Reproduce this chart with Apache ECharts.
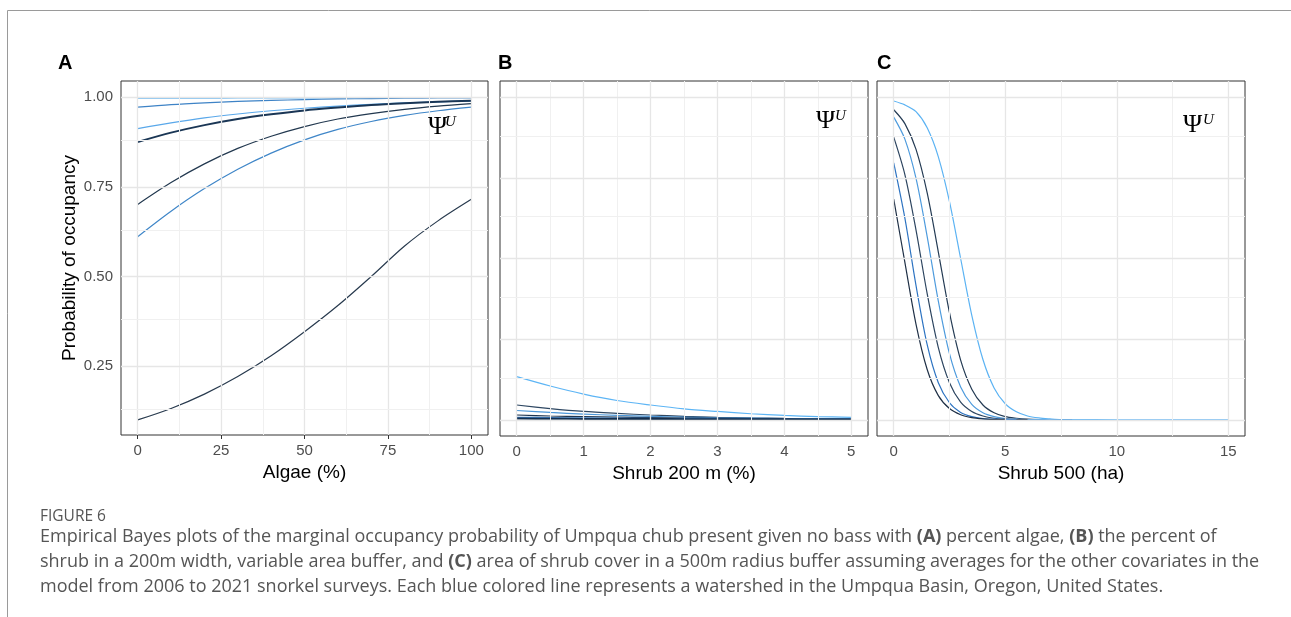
<!DOCTYPE html>
<html>
<head>
<meta charset="utf-8">
<script src="https://cdn.jsdelivr.net/npm/echarts@6/dist/echarts.min.js"></script>
<style>
  html, body { margin: 0; padding: 0; background: #fff; }
  #main { width: 1291px; height: 617px; }
</style>
</head>
<body>
<div id="main"></div>
<script>
// ---- data ----
// panel A: algae (%)
var algaeX = [0, 10, 20, 30, 40, 50, 60, 70, 80, 90, 100];
var algae1 = [0.997, 0.997, 0.997, 0.998, 0.998, 0.998, 0.998, 0.998, 0.999, 0.999, 0.999];
var algae2 = [0.972, 0.979, 0.984, 0.988, 0.991, 0.993, 0.995, 0.996, 0.997, 0.998, 0.998];
var algae3 = [0.912, 0.928, 0.942, 0.953, 0.962, 0.969, 0.975, 0.980, 0.984, 0.987, 0.989];
var algae4 = [0.875, 0.901, 0.922, 0.939, 0.952, 0.963, 0.971, 0.978, 0.983, 0.987, 0.990];
var algae5 = [0.701, 0.762, 0.814, 0.857, 0.891, 0.918, 0.939, 0.954, 0.966, 0.975, 0.982];
var algae6 = [0.611, 0.682, 0.745, 0.799, 0.844, 0.881, 0.910, 0.932, 0.949, 0.962, 0.972];
var algae7 = [0.100, 0.132, 0.172, 0.221, 0.279, 0.346, 0.419, 0.500, 0.585, 0.655, 0.715];

// panel B: shrub 200 m (%)
var shrub200X = [0, 0.5, 1, 1.5, 2, 2.5, 3, 3.5, 4, 4.5, 5];
var shrub200_1 = [0.134, 0.105, 0.080, 0.060, 0.046, 0.034, 0.026, 0.019, 0.014, 0.010, 0.008];
var shrub200_2 = [0.046, 0.035, 0.026, 0.020, 0.015, 0.011, 0.008, 0.006, 0.0046, 0.0034, 0.0025];
var shrub200_3 = [0.029, 0.023, 0.018, 0.014, 0.011, 0.0085, 0.0066, 0.0051, 0.004, 0.0031, 0.0024];
var shrub200_4 = [0.015, 0.012, 0.010, 0.0083, 0.0068, 0.0056, 0.0046, 0.0037, 0.003, 0.0025, 0.002];
var shrub200_5 = [0.008, 0.007, 0.006, 0.0052, 0.0045, 0.004, 0.0035, 0.003, 0.0026, 0.0023, 0.002];
var shrub200_6 = [0.004, 0.0035, 0.003, 0.0028, 0.0025, 0.0022, 0.002, 0.0018, 0.0016, 0.0014, 0.0012];

// panel C: shrub 500 (ha)
var shrub500X = [0, 0.5, 1, 1.5, 2, 2.5, 3, 3.5, 4, 4.5, 5, 5.5, 6, 6.5, 7, 7.5, 8, 10, 12.5, 15];
var shrub500_1 = [0.988, 0.976, 0.955, 0.905, 0.815, 0.676, 0.500, 0.324, 0.187, 0.099, 0.050, 0.025, 0.012, 0.006, 0.003, 0.001, 0.001, 0, 0, 0];
var shrub500_2 = [0.961, 0.918, 0.838, 0.703, 0.520, 0.332, 0.185, 0.095, 0.046, 0.022, 0.010, 0.005, 0.002, 0.001];
var shrub500_3 = [0.938, 0.870, 0.748, 0.568, 0.368, 0.205, 0.102, 0.048, 0.022, 0.010, 0.004, 0.002, 0.001, 0.001, 0, 0, 0];
var shrub500_4 = [0.876, 0.760, 0.588, 0.391, 0.224, 0.115, 0.055, 0.026, 0.012, 0.005, 0.002, 0.001, 0.001];
var shrub500_5 = [0.796, 0.625, 0.416, 0.233, 0.115, 0.053, 0.023, 0.010, 0.004, 0.002, 0.001, 0];
var shrub500_6 = [0.684, 0.488, 0.296, 0.156, 0.075, 0.035, 0.016, 0.007, 0.003, 0.001, 0.001];

// ticks / grid breaks
var ticksAx = [0, 25, 50, 75, 100];
var minorAx = [12.5, 37.5, 62.5, 87.5];
var ticksAy = [0.25, 0.5, 0.75, 1];
var minorAy = [0.125, 0.375, 0.625, 0.875];
var ticksBx = [0, 1, 2, 3, 4, 5];
var minorBx = [0.5, 1.5, 2.5, 3.5, 4.5];
var ticksCx = [0, 5, 10, 15];
var minorCx = [2.5, 7.5, 12.5];
var ticksBCy = [0, 0.25, 0.5, 0.75, 1];
var minorBCy = [0.125, 0.375, 0.625, 0.875];

// colours (ggplot default gradient dark navy -> light blue)
var coloursA = ['#5AB0F0', '#3E83C6', '#5AA8EA', '#1A3655', '#22384F', '#3F86C8', '#283A4E'];
var coloursB = ['#5DB5F5', '#2E4762', '#4C97D8', '#1E3550', '#3B7DC2', '#15304F'];
var coloursC = ['#5CB3F3', '#243B54', '#4E9BDD', '#2D4560', '#2E74C2', '#1F3046'];

var chart = echarts.init(document.getElementById('main'));

function pairs(xs, ys) {
    var out = [];
    for (var i = 0; i < ys.length; i++) out.push([xs[i], ys[i]]);
    return out;
}

// gridlines drawn as markLines so they sit on the same scale as the data
function gridSeries(idx, majX, minX, majY, minY) {
    var d = [];
    var major = { color: '#E6E6E6', width: 1.3, type: 'solid' };
    var minor = { color: '#F0F0F0', width: 1, type: 'solid' };
    majX.forEach(function (v) { d.push({ xAxis: v, lineStyle: major }); });
    minX.forEach(function (v) { d.push({ xAxis: v, lineStyle: minor }); });
    majY.forEach(function (v) { d.push({ yAxis: v, lineStyle: major }); });
    minY.forEach(function (v) { d.push({ yAxis: v, lineStyle: minor }); });
    return {
        type: 'line', xAxisIndex: idx, yAxisIndex: idx, data: [], z: 1, silent: true,
        markLine: { silent: true, symbol: 'none', label: { show: false }, animation: false, data: d }
    };
}

function lineSeries(idx, xs, ys, colour, w) {
    return {
        type: 'line', xAxisIndex: idx, yAxisIndex: idx, z: 3,
        data: pairs(xs, ys), showSymbol: false, smooth: 0.3,
        lineStyle: { color: colour, width: w || 1.2 }, animation: false, silent: true
    };
}

function xAxisOf(idx, min, max, ticks, name) {
    return {
        gridIndex: idx, type: 'value', min: min, max: max,
        axisLine: { show: false },
        axisTick: { show: true, length: 4, lineStyle: { color: '#333' }, customValues: ticks },
        axisLabel: { customValues: ticks, fontSize: 15, color: '#4D4D4D', margin: 8, fontFamily: 'Liberation Sans' },
        splitLine: { show: false },
        name: name, nameLocation: 'middle', nameGap: 28,
        nameTextStyle: { fontSize: 19, color: '#000', fontFamily: 'Liberation Sans' }
    };
}

function yAxisOf(idx, min, max, ticks, showLabels, name) {
    return {
        gridIndex: idx, type: 'value', min: min, max: max,
        axisLine: { show: false },
        axisTick: { show: true, length: 4, lineStyle: { color: '#333' }, customValues: ticks },
        axisLabel: {
            show: showLabels, customValues: ticks, fontSize: 15, color: '#4D4D4D', margin: 8,
            fontFamily: 'Liberation Sans', formatter: function (v) { return v.toFixed(2); }
        },
        splitLine: { show: false },
        name: name || '', nameLocation: 'middle', nameGap: 42,
        nameTextStyle: { fontSize: 19, color: '#000', fontFamily: 'Liberation Sans' }
    };
}

var seriesList = [
    gridSeries(0, ticksAx, minorAx, ticksAy, minorAy),
    gridSeries(1, ticksBx, minorBx, ticksBCy, minorBCy),
    gridSeries(2, ticksCx, minorCx, ticksBCy, minorBCy)
];
[algae1, algae2, algae3, algae4, algae5, algae6, algae7].forEach(function (ys, i) {
    seriesList.push(lineSeries(0, algaeX, ys, coloursA[i], i === 3 ? 2 : 1.2));
});
[shrub200_1, shrub200_2, shrub200_3, shrub200_4, shrub200_5, shrub200_6].forEach(function (ys, i) {
    seriesList.push(lineSeries(1, shrub200X, ys, coloursB[i], i === 5 ? 2 : 1.2));
});
[shrub500_1, shrub500_2, shrub500_3, shrub500_4, shrub500_5, shrub500_6].forEach(function (ys, i) {
    seriesList.push(lineSeries(2, shrub500X, ys, coloursC[i], 1.2));
});

var capFont = '18px "Open Sans"';
var capBold = { b: { fontWeight: 'bold', fontFamily: 'Open Sans', fontSize: 18, fill: '#555' } };
var psiFont = '26px "Liberation Serif"';
var uFont = 'italic 15px "Liberation Serif"';

var option = {
    backgroundColor: '#fff',
    animation: false,
    grid: [
        { left: 121, top: 81, width: 367, height: 354, show: true, borderColor: '#333', borderWidth: 1, backgroundColor: 'transparent' },
        { left: 500, top: 81, width: 368, height: 355, show: true, borderColor: '#333', borderWidth: 1, backgroundColor: 'transparent' },
        { left: 877, top: 81, width: 368, height: 355, show: true, borderColor: '#333', borderWidth: 1, backgroundColor: 'transparent' }
    ],
    xAxis: [
        xAxisOf(0, -5, 105, ticksAx, 'Algae (%)'),
        xAxisOf(1, -0.25, 5.25, ticksBx, 'Shrub 200 m (%)'),
        xAxisOf(2, -0.75, 15.75, ticksCx, 'Shrub 500 (ha)')
    ],
    yAxis: [
        yAxisOf(0, 0.058, 1.045, ticksAy, true, 'Probability of occupancy'),
        yAxisOf(1, -0.05, 1.05, ticksBCy, false),
        yAxisOf(2, -0.05, 1.05, ticksBCy, false)
    ],
    series: seriesList,
    graphic: [
        // page frame
        { type: 'line', shape: { x1: 7.5, y1: 10.5, x2: 1291, y2: 10.5 }, style: { stroke: '#9a9a9a', lineWidth: 1 } },
        { type: 'line', shape: { x1: 7.5, y1: 10.5, x2: 7.5, y2: 617 }, style: { stroke: '#9a9a9a', lineWidth: 1 } },
        // panel letters
        { type: 'text', x: 58, y: 53, style: { text: 'A', font: 'bold 20px "Liberation Sans"', fill: '#000' } },
        { type: 'text', x: 498, y: 53, style: { text: 'B', font: 'bold 20px "Liberation Sans"', fill: '#000' } },
        { type: 'text', x: 877, y: 53, style: { text: 'C', font: 'bold 20px "Liberation Sans"', fill: '#000' } },
        // Psi^U labels
        { type: 'text', x: 428, y: 114, z: 10, style: { text: 'Ψ', font: psiFont, fill: '#000' } },
        { type: 'text', x: 445, y: 115, z: 10, style: { text: 'U', font: uFont, fill: '#000' } },
        { type: 'text', x: 816, y: 108, z: 10, style: { text: 'Ψ', font: psiFont, fill: '#000' } },
        { type: 'text', x: 835, y: 109, z: 10, style: { text: 'U', font: uFont, fill: '#000' } },
        { type: 'text', x: 1183, y: 112, z: 10, style: { text: 'Ψ', font: psiFont, fill: '#000' } },
        { type: 'text', x: 1203, y: 113, z: 10, style: { text: 'U', font: uFont, fill: '#000' } },
        // caption
        { type: 'text', x: 40, y: 509, style: { text: 'FIGURE 6', font: '15.5px "Open Sans"', fill: '#555' } },
        { type: 'text', x: 40, y: 528, style: {
            text: 'Empirical Bayes plots of the marginal occupancy probability of Umpqua chub present given no bass with {b|(A)} percent algae, {b|(B)} the percent of',
            font: capFont, fill: '#555', rich: capBold } },
        { type: 'text', x: 40, y: 553, style: {
            text: 'shrub in a 200m width, variable area buffer, and {b|(C)} area of shrub cover in a 500m radius buffer assuming averages for the other covariates in the',
            font: capFont, fill: '#555', rich: capBold } },
        { type: 'text', x: 40, y: 578, style: {
            text: 'model from 2006 to 2021 snorkel surveys. Each blue colored line represents a watershed in the Umpqua Basin, Oregon, United States.',
            font: capFont, fill: '#555' } }
    ]
};

chart.setOption(option);
</script>
</body>
</html>
